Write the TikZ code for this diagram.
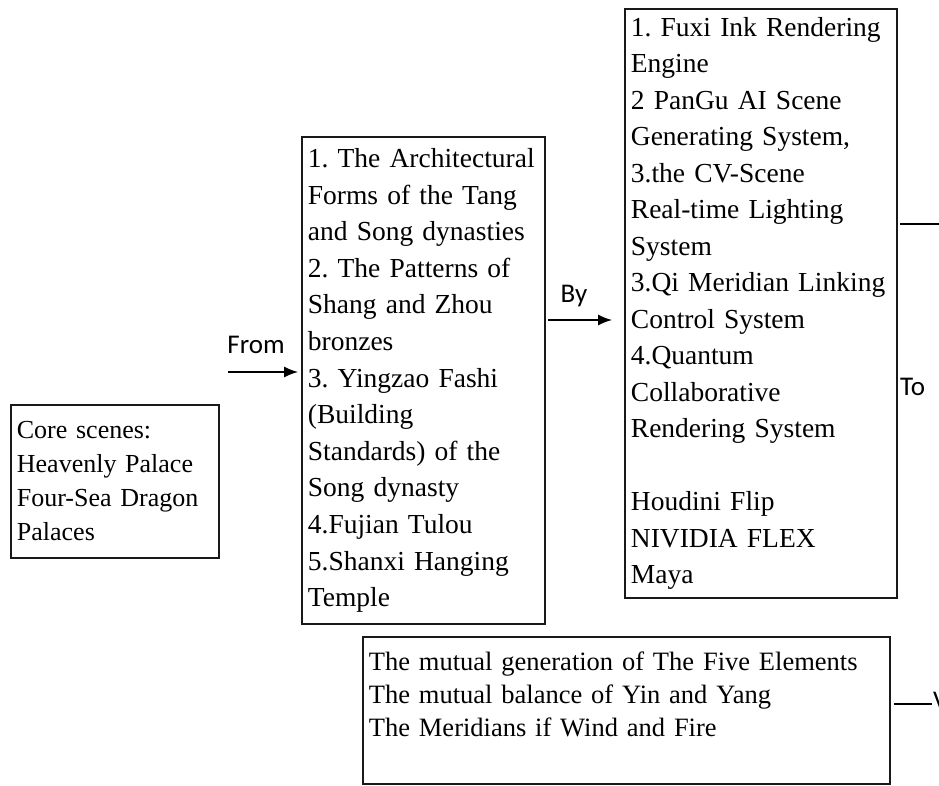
\documentclass[tikz,border=0pt]{standalone}
\usepackage{fontspec}
\setmainfont{Liberation Serif}
\newfontfamily\calfont{Carlito}
\usetikzlibrary{calc,arrows.meta,positioning}
\frenchspacing
\hyphenpenalty=10000
\exhyphenpenalty=10000

\begin{document}
\begin{tikzpicture}[x=1pt,y=-1pt,
    box/.style={draw=black!90,line width=1.8pt,inner xsep=6pt,inner ysep=0pt,align=left,anchor=north west},
    lbl/.style={font=\calfont\fontsize{27}{30}\selectfont,inner sep=0pt},
    arr/.style={line width=1.3pt,-{Latex[length=14pt,width=11pt]}},
    link/.style={line width=1.8pt}]
  \useasboundingbox (0,0) rectangle (939,785);
  % boxes
  \node[box,text width=196pt,minimum height=153pt,font=\fontsize{26}{34}\selectfont]
    (core) at (10,404) {Core scenes:\\Heavenly Palace\\Four-Sea Dragon\\Palaces};
  \node[box,text width=231pt,minimum height=487pt,font=\fontsize{27.5}{36.6}\selectfont]
    (refs) at (301,136) {1. The Architectural\\Forms of the Tang\\and Song dynasties\\2. The Patterns of\\Shang and Zhou\\bronzes\\3. Yingzao Fashi\\(Building\\Standards) of the\\Song dynasty\\4.Fujian Tulou\\5.Shanxi Hanging\\Temple};
  \node[box,text width=260pt,minimum height=589pt,font=\fontsize{27.5}{36.5}\selectfont]
    (tech) at (624,8) {1. Fuxi Ink Rendering\\Engine\\2 PanGu AI Scene\\Generating System,\\3.the CV-Scene\\Real-time Lighting\\System\\3.Qi Meridian Linking\\Control System\\4.Quantum\\Collaborative\\Rendering System\\\mbox{}\\Houdini Flip\\NIVIDIA FLEX\\Maya};
  \node[box,text width=515pt,minimum height=147pt,font=\fontsize{26.5}{33}\selectfont]
    (law) at (362,636) {The mutual generation of The Five Elements\\The mutual balance of Yin and Yang\\The Meridians if Wind and Fire\\\mbox{}};
  % labels
  \node[lbl] (from) at (256,345) {From};
  \node[lbl] (by) at (574,296) {By};
  \node[lbl,anchor=west] (to) at (900,387) {To};
  \node[lbl,anchor=west] (vlbl) at (933,701) {V};
  % connectors
  \coordinate (fromtail) at (228,372);
  \coordinate (byrow) at (0,320);
  \coordinate (toend) at (939,224);
  \coordinate (vend) at (932,704);
  \draw[arr,shorten >=3pt] (fromtail) -- (fromtail -| refs.west);
  \draw[arr,shorten <=2pt,shorten >=12pt] (refs.east |- byrow) -- (tech.west |- byrow);
  \draw[link,shorten <=2pt] (tech.east |- toend) -- (toend);
  \draw[link,shorten <=3pt] (law.east |- vend) -- (vend);
\end{tikzpicture}
\end{document}
